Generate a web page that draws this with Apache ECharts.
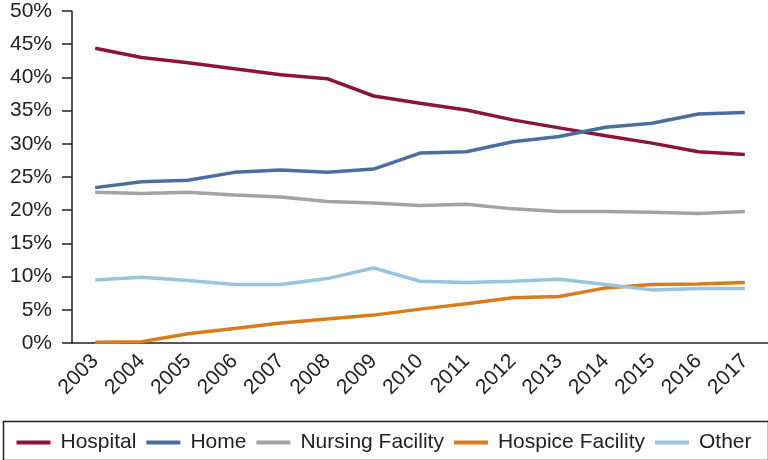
<!DOCTYPE html>
<html><head><meta charset="utf-8">
<script src="https://cdn.jsdelivr.net/npm/echarts@6/dist/echarts.min.js"></script>
<style>html,body{margin:0;padding:0;background:#fff}#c{width:768px;height:460px}</style>
</head><body><div id="c"></div>
<script>
var years = ['2003','2004','2005','2006','2007','2008','2009','2010','2011','2012','2013','2014','2015','2016','2017'];
var hospital = [44.4,43.0,42.2,41.3,40.4,39.8,37.2,36.1,35.1,33.6,32.4,31.2,30.1,28.8,28.4];
var home = [23.4,24.3,24.5,25.7,26.05,25.7,26.2,28.6,28.8,30.3,31.1,32.5,33.1,34.5,34.7];
var nursing = [22.7,22.5,22.7,22.3,22.0,21.3,21.1,20.7,20.9,20.2,19.8,19.8,19.7,19.5,19.8];
var hospice = [0.1,0.2,1.4,2.2,3.0,3.6,4.2,5.1,5.9,6.8,7.0,8.3,8.8,8.9,9.1];
var other = [9.5,9.9,9.4,8.8,8.8,9.7,11.3,9.3,9.1,9.3,9.6,8.8,8.0,8.2,8.2];
var yTicks = ['0%','5%','10%','15%','20%','25%','30%','35%','40%','45%','50%'];

var names = ['Hospital','Home','Nursing Facility','Hospice Facility','Other'];
var colors = ['#8B1538','#4A6E9E','#A3A3A6','#D67D1E','#97C5DF'];
var datas = [hospital, home, nursing, hospice, other];

var chart = echarts.init(document.getElementById('c'));
var font = 'Liberation Sans, Arial, Helvetica, sans-serif';
chart.setOption({
  animation: false,
  textStyle: {fontFamily: font},
  grid: {left: 72, right: 0, top: 11, bottom: 117, containLabel: false},
  xAxis: {
    type: 'category', data: years, boundaryGap: true,
    axisLine: {lineStyle: {color: '#222', width: 1.5}},
    axisTick: {show: false},
    axisLabel: {rotate: 45, margin: 15, fontSize: 21, color: '#222', fontFamily: font}
  },
  yAxis: {
    type: 'value', min: 0, max: 50, interval: 5,
    axisLine: {show: true, lineStyle: {color: '#222', width: 1.5}},
    axisTick: {show: true, length: 10, lineStyle: {color: '#222', width: 1.5}},
    splitLine: {show: false},
    axisLabel: {margin: 20, fontSize: 21, color: '#222', fontFamily: font,
      formatter: function(v){ return yTicks[Math.round(v/5)]; }}
  },
  legend: {
    left: 'center', top: 427, icon: 'rect', itemWidth: 34, itemHeight: 4, itemGap: 10,
    textStyle: {fontSize: 21, color: '#222', fontFamily: font, padding: [0,0,0,5]},
    data: names
  },
  graphic: [{type: 'rect', left: 1, top: 419, shape: {width: 765, height: 39},
    style: {fill: 'none', stroke: '#222', lineWidth: 1.5}}],
  series: names.map(function(n, i){
    return {name: n, type: 'line', data: datas[i], symbol: 'none', showSymbol: false,
      lineStyle: {color: colors[i], width: 3.5}, itemStyle: {color: colors[i]}};
  })
});
</script></body></html>
